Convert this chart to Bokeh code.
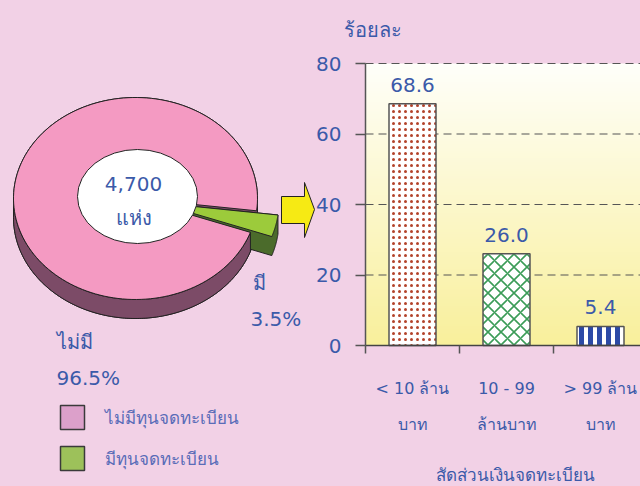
import numpy as np
from bokeh.plotting import figure
from bokeh.models import Range1d, FixedTicker, LinearAxis
from bokeh.core.properties import value
from bokeh.embed import file_html
from bokeh.resources import INLINE

# ---------------- data ----------------
pie_labels = ["ไม่มี", "มี"]
pie_values = [96.5, 3.5]
pie_total = ["4,700", "แห่ง"]
legend_labels = ["ไม่มีทุนจดทะเบียน", "มีทุนจดทะเบียน"]
bar_line1 = ["< 10 ล้าน", "10 - 99", "> 99 ล้าน"]
bar_line2 = ["บาท", "ล้านบาท", "บาท"]
bar_values = [68.6, 26.0, 5.4]
y_ticks = [0, 20, 40, 60, 80]
y_title = "ร้อยละ"
x_title = "สัดส่วนเงินจดทะเบียน"

# ---------------- style ----------------
BG = "#f2d1e6"
PINK = "#f49ac2"
PINK_SIDE = "#7c4b67"
GREEN = "#9ccb3b"
GREEN_SIDE = "#4b6b2b"
BLUE = "#3b5aa9"
LEG_BLUE = "#5a6cb8"
EDGE = "#222222"
AXIS = "#555555"
FONT = "DejaVu Sans"
legend_colors = ["#dca0ca", "#9dc15a"]

W, H = 640, 486
# window-pixel coordinates for the pie / decorative part
p = figure(width=W, height=H, x_range=Range1d(0, W), y_range=Range1d(H, 0),
           output_backend="svg", toolbar_location=None,
           x_axis_location=None, y_axis_location=None, min_border=0,
           background_fill_color=BG, border_fill_color=BG, outline_line_color=None)
p.grid.visible = False

# bar-chart scales: y axis at x=365 px, 94 px per category; y 0..80 over 282 px (0 at y=345 px)
PX_CAT, PX_Y = 94.0, 282.0 / 80.0
X0_PX, Y0_PX = 365.0, 345.0
XMAX = (W - X0_PX) / PX_CAT
p.extra_x_ranges = {"bar": Range1d(-X0_PX / PX_CAT, XMAX)}
p.extra_y_ranges = {"bar": Range1d(-(H - Y0_PX) / PX_Y, Y0_PX / PX_Y)}
B = dict(x_range_name="bar", y_range_name="bar")

# ---------------- 3D pie ----------------
cx, cy, rx, ry, depth = 135.0, 198.0, 122.0, 101.0, 19.0
START = 7.0
total = sum(pie_values)
a_g0 = START
a_g1 = START + 360.0 * pie_values[1] / total
a_p0, a_p1 = a_g1, START + 360.0


def arc(t0, t1, ox=0.0, oy=0.0, n=160):
    t = np.radians(np.linspace(t0, t1, n))
    return cx + ox + rx * np.cos(t), cy + oy + ry * np.sin(t)


def hull(xs, ys):
    pts = sorted(set(zip(np.round(xs, 3), np.round(ys, 3))))

    def cross(o, a, b):
        return (a[0] - o[0]) * (b[1] - o[1]) - (a[1] - o[1]) * (b[0] - o[0])
    lower, upper = [], []
    for q in pts:
        while len(lower) >= 2 and cross(lower[-2], lower[-1], q) <= 0:
            lower.pop()
        lower.append(q)
    for q in reversed(pts):
        while len(upper) >= 2 and cross(upper[-2], upper[-1], q) <= 0:
            upper.pop()
        upper.append(q)
    h = lower[:-1] + upper[:-1]
    return [q[0] for q in h], [q[1] for q in h]


ex, ey = arc(0, 360)
hx, hy = hull(np.r_[ex, ex], np.r_[ey, ey + depth])
p.patch(hx, hy, fill_color=PINK_SIDE, line_color=EDGE, line_width=1)

tm = np.radians((a_g0 + a_g1) / 2)
ox, oy = 0.18 * rx * np.cos(tm), 0.18 * ry * np.sin(tm)
gx, gy = arc(a_g0, a_g1, ox, oy, 40)
gx = np.r_[cx + ox, gx]
gy = np.r_[cy + oy, gy]
sx, sy = hull(np.r_[gx, gx], np.r_[gy, gy + depth])
p.patch(sx, sy, fill_color=GREEN_SIDE, line_color=EDGE, line_width=1)
p.patch(list(gx), list(gy), fill_color=GREEN, line_color=EDGE, line_width=1)

bx1, by1 = arc(a_p0, 180)
bx2, by2 = arc(180, a_p0, 0, depth)
p.patch(list(np.r_[bx1, bx2]), list(np.r_[by1, by2]), fill_color=PINK_SIDE,
        line_color=EDGE, line_width=1)

px_, py_ = arc(a_p0, a_p1)
p.patch(list(np.r_[cx, px_]), list(np.r_[cy, py_]), fill_color=PINK, line_color=EDGE, line_width=1)

p.ellipse(x=137, y=196, width=120, height=94, fill_color="white", line_color=EDGE, line_width=1)
p.text(x=[133, 133], y=[183, 217], text=pie_total, text_font=value(FONT),
       text_font_size="20px", text_color=BLUE, text_align="center", text_baseline="middle")

p.text(x=[56, 56], y=[341, 377], text=[pie_labels[0], f"{pie_values[0]:.1f}%"],
       text_font=value(FONT), text_font_size="20px", text_color=BLUE,
       text_align="left", text_baseline="middle")
p.text(x=[252, 250], y=[282, 318], text=[pie_labels[1], f"{pie_values[1]:.1f}%"],
       text_font=value(FONT), text_font_size="20px", text_color=BLUE,
       text_align="left", text_baseline="middle")

# arrow
p.patch([281, 304, 304, 314, 304, 304, 281], [196, 196, 182, 209, 237, 223, 223],
        fill_color="#f6ea14", line_color=EDGE, line_width=1)

# legend
leg_y = [417 + 41 * i for i in range(len(legend_labels))]
p.rect(x=[72] * len(legend_labels), y=leg_y, width=24, height=24,
       fill_color=legend_colors, line_color="#3a3a3a", line_width=1.5)
p.text(x=[104] * len(legend_labels), y=leg_y, text=legend_labels, text_font=value(FONT),
       text_font_size="17px", text_color=LEG_BLUE, text_align="left", text_baseline="middle")

# ---------------- bar chart ----------------
N = 160
img = np.zeros((N, 1), dtype=np.uint32)
view = img.view(dtype=np.uint8).reshape((N, 1, 4))
bot = np.array([249, 240, 156])
top = np.array([255, 255, 250])
for i in range(N):
    c = bot + (top - bot) * (i / (N - 1))
    view[i, 0, 0], view[i, 0, 1], view[i, 0, 2], view[i, 0, 3] = int(c[0]), int(c[1]), int(c[2]), 255
p.image_rgba(image=[img], x=0, y=0, dw=XMAX, dh=y_ticks[-1], level="image", **B)

# dashed grid lines
gl = y_ticks[1:]
p.segment(x0=[0] * len(gl), x1=[XMAX] * len(gl), y0=gl, y1=gl, line_color=AXIS,
          line_dash="8 5", line_width=1.2, **B)

yax = LinearAxis(ticker=FixedTicker(ticks=y_ticks), fixed_location=0, bounds=(0, y_ticks[-1]), **B)
yax.major_tick_out = 10
yax.major_tick_in = 0
yax.minor_tick_line_color = None
yax.axis_line_color = AXIS
yax.axis_line_width = 1.5
yax.major_tick_line_color = AXIS
yax.major_tick_line_width = 1.5
yax.major_label_standoff = 14
yax.major_label_text_font = FONT
yax.major_label_text_font_size = "20px"
yax.major_label_text_color = BLUE
p.add_layout(yax, "left")

ncat = len(bar_values)
xax = LinearAxis(ticker=FixedTicker(ticks=list(range(ncat))), fixed_location=0,
                 bounds=(0, XMAX), **B)
xax.major_label_overrides = {i: "" for i in range(ncat)}
xax.major_tick_out = 8
xax.major_tick_in = 0
xax.minor_tick_line_color = None
xax.axis_line_color = "#444444"
xax.axis_line_width = 1.5
xax.major_tick_line_color = AXIS
xax.major_tick_line_width = 1.5
p.add_layout(xax, "below")

xc = [i + 0.5 for i in range(ncat)]
p.vbar(x=xc, top=bar_values, bottom=0, width=0.5, fill_color="white",
       line_color=AXIS, line_width=1.5,
       hatch_pattern=["dot", "diagonal_cross", "vertical_line"],
       hatch_color=["#b3432a", "#3c9c58", "#2c4aa6"],
       hatch_scale=[6, 13, 9], hatch_weight=[7, 1.6, 5], **B)
p.text(x=xc, y=bar_values, text=[f"{v:.1f}" for v in bar_values], y_offset=-19,
       text_font=value(FONT), text_font_size="20px", text_color=BLUE,
       text_align="center", text_baseline="middle", **B)

# category labels (two lines) and axis titles
p.text(x=xc, y=[-12.2] * ncat, text=bar_line1, text_font=value(FONT), text_font_size="16px",
       text_color=BLUE, text_align="center", text_baseline="middle", **B)
p.text(x=xc, y=[-22.4] * ncat, text=bar_line2, text_font=value(FONT), text_font_size="16px",
       text_color=BLUE, text_align="center", text_baseline="middle", **B)
p.text(x=[1.6], y=[-36.6], text=[x_title], text_font=value(FONT), text_font_size="17px",
       text_color=BLUE, text_align="center", text_baseline="middle", **B)
p.text(x=[-0.234], y=[89.6], text=[y_title], text_font=value(FONT), text_font_size="20px",
       text_color=BLUE, text_align="left", text_baseline="middle", **B)

html = file_html(p, INLINE)
html = html.replace("</head>",
                    "<style>html,body{background:%s;margin:0;overflow:hidden;}</style></head>" % BG, 1)
open("out.html", "w").write(html)
